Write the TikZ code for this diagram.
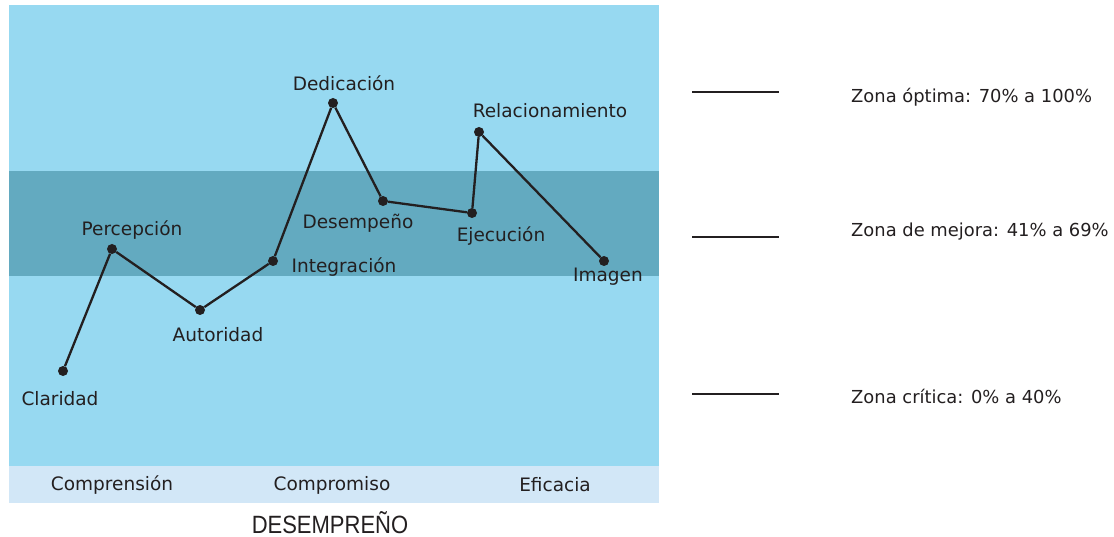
\documentclass[tikz,border=0pt]{standalone}
\usepackage{fontspec}
\setmainfont{DejaVu Sans}
\newfontfamily\titlefont{Liberation Sans}
\definecolor{skyband}{HTML}{97D9F1}
\definecolor{midband}{HTML}{63AAC0}
\definecolor{footband}{HTML}{D2E7F7}
\definecolor{inkdark}{HTML}{231F20}
\begin{document}
\begin{tikzpicture}[x=1pt,y=-1pt,
  lbl/.style={font=\fontsize{18.5}{21}\selectfont, text=inkdark, inner sep=0pt},
  leglbl/.style={font=\fontsize{17.9}{21}\selectfont, text=inkdark, inner sep=0pt, anchor=west},
  dot/.style={circle, fill=inkdark, inner sep=0pt, minimum size=10pt},
  link/.style={draw=inkdark, line width=2.3pt},
  legline/.style={draw=inkdark, line width=2.6pt}]
\useasboundingbox (0,0) rectangle (1114,537);
% panels
\fill[skyband] (9,5) rectangle (659,466);
\fill[midband] (9,171) rectangle (659,276);
\fill[footband] (9,466) rectangle (659,503);
% points
\node[dot] (cla) at (63,371) {};
\node[dot] (per) at (112,249) {};
\node[dot] (aut) at (200,310) {};
\node[dot] (int) at (273,261) {};
\node[dot] (ded) at (333,103) {};
\node[dot] (des) at (383,201) {};
\node[dot] (eje) at (472,213) {};
\node[dot] (rel) at (479,132) {};
\node[dot] (ima) at (604,261) {};
\draw[link] (cla) -- (per) -- (aut) -- (int) -- (ded) -- (des) -- (eje) -- (rel) -- (ima);
% labels
\node[lbl] (lcla) at (60,399) {Claridad};
\node[lbl] (lper) at (132,230) {Percepción};
\node[lbl] (laut) at (218,335) {Autoridad};
\node[lbl] (lint) at (344,267) {Integración};
\node[lbl] (lded) at (344,83) {Dedicación};
\node[lbl] (ldes) at (358,223) {Desempeño};
\node[lbl] (leje) at (501,236) {Ejecución};
\node[lbl] (lrel) at (550,111) {Relacionamiento};
\node[lbl] (lima) at (608,277) {Imagen};
% footer
\node[lbl] (fcom) at (112,485) {Comprensión};
\node[lbl] (fcmp) at (332,485) {Compromiso};
\node[lbl] (fefi) at (555,485) {Eficacia};
\node[lbl, font=\titlefont\fontsize{25}{27}\selectfont] (ftit) at (330,523) {\scalebox{0.88}[1]{DESEMPREÑO}};
% legend
\coordinate (a1) at (692,92); \coordinate (b1) at (779,92);
\coordinate (a2) at (692,237); \coordinate (b2) at (779,237);
\coordinate (a3) at (692,394); \coordinate (b3) at (779,394);
\draw[legline] (a1) -- (b1);
\draw[legline] (a2) -- (b2);
\draw[legline] (a3) -- (b3);
\node[leglbl] (z1) at (851,97) {Zona óptima: 70\% a 100\%};
\node[leglbl] (z2) at (851,232) {Zona de mejora: 41\% a 69\%};
\node[leglbl] (z3) at (851,396) {Zona crítica: 0\% a 40\%};
\end{tikzpicture}
\end{document}
